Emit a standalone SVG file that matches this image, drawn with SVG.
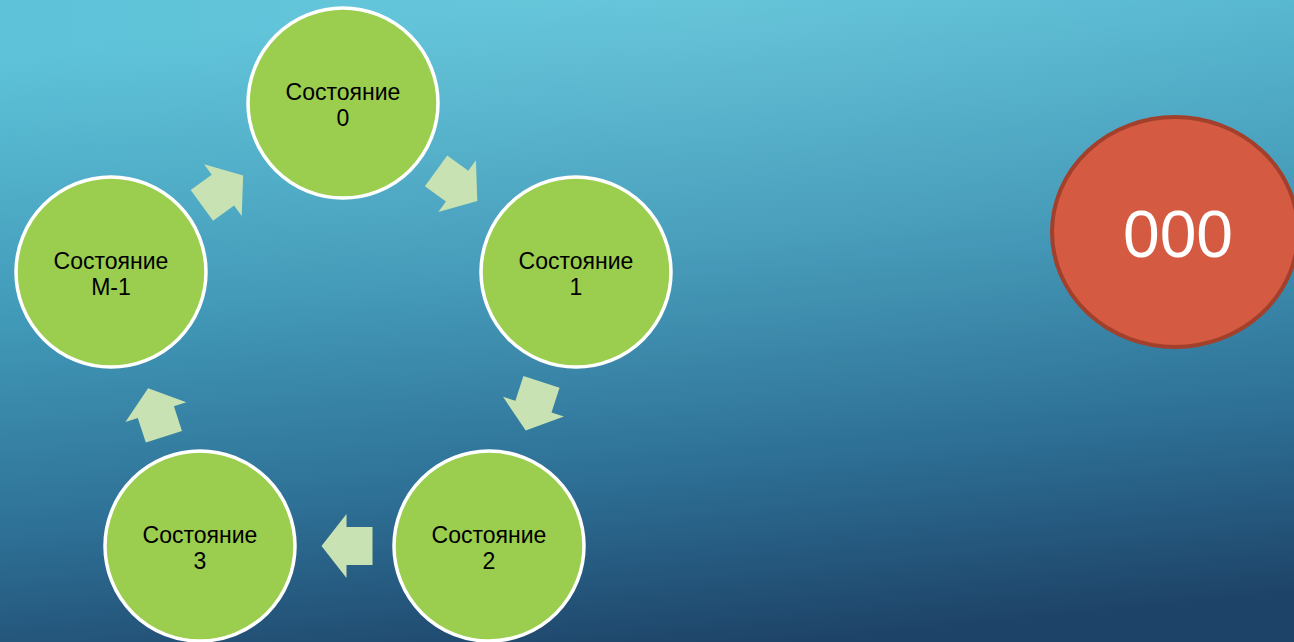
<svg xmlns="http://www.w3.org/2000/svg" width="1294" height="642" viewBox="0 0 1294 642">
  <defs>
    <linearGradient id="bg" x1="0.42" y1="0" x2="0.62" y2="1">
      <stop offset="0" stop-color="#5BC2D8"/>
      <stop offset="0.4" stop-color="#4199B8"/>
      <stop offset="0.72" stop-color="#2E7096"/>
      <stop offset="1" stop-color="#1E4368"/>
    </linearGradient>
    <radialGradient id="sheen" cx="0.55" cy="0" r="0.7">
      <stop offset="0" stop-color="#FFFFFF" stop-opacity="0.08"/>
      <stop offset="1" stop-color="#FFFFFF" stop-opacity="0"/>
    </radialGradient>
    <path id="arr" d="M -25.5,-19 L 0.5,-19 L 0.5,-32 L 25.5,0 L 0.5,32 L 0.5,19 L -25.5,19 Z"/>
  </defs>
  <style>
    .node circle { fill: #9BCD4E; stroke: #FFFFFF; stroke-width: 3.5; }
    .node text { font-family: "Liberation Sans", Arial, sans-serif; font-size: 23px; fill: #000000; text-anchor: middle; }
    .conn use { fill: #C9E2B4; }
    .red ellipse { fill: #D45A41; stroke: #A2402C; stroke-width: 4; }
    .red text { font-family: "Liberation Sans", Arial, sans-serif; font-size: 66px; fill: #FFFFFF; text-anchor: middle; }
  </style>
  <rect x="0" y="0" width="1294" height="642" fill="url(#bg)"/>
  <rect x="0" y="0" width="1294" height="642" fill="url(#sheen)"/>

  <g id="connectors" class="conn">
    <use href="#arr" transform="translate(456.7,185.9) rotate(36)"/>
    <use href="#arr" transform="translate(533.6,406.2) rotate(108)"/>
    <use href="#arr" transform="translate(347,546) rotate(180)"/>
    <use href="#arr" transform="translate(156,412.5) rotate(-108)"/>
    <use href="#arr" transform="translate(222.5,190.5) rotate(-36)"/>
  </g>

  <g id="state0" class="node">
    <circle cx="343" cy="103" r="95"/>
    <text x="343" y="100">Состояние</text>
    <text x="343" y="126">0</text>
  </g>
  <g id="state1" class="node">
    <circle cx="576" cy="272" r="95"/>
    <text x="576" y="269">Состояние</text>
    <text x="576" y="295">1</text>
  </g>
  <g id="state2" class="node">
    <circle cx="489" cy="546" r="95"/>
    <text x="489" y="543">Состояние</text>
    <text x="489" y="569">2</text>
  </g>
  <g id="state3" class="node">
    <circle cx="200" cy="546" r="95"/>
    <text x="200" y="543">Состояние</text>
    <text x="200" y="569">3</text>
  </g>
  <g id="stateM1" class="node">
    <circle cx="111" cy="272" r="95"/>
    <text x="111" y="269">Состояние</text>
    <text x="111" y="295">М-1</text>
  </g>

  <g id="counter" class="red">
    <ellipse cx="1175" cy="232" rx="123" ry="115"/>
    <text x="1178" y="257">000</text>
  </g>
</svg>
